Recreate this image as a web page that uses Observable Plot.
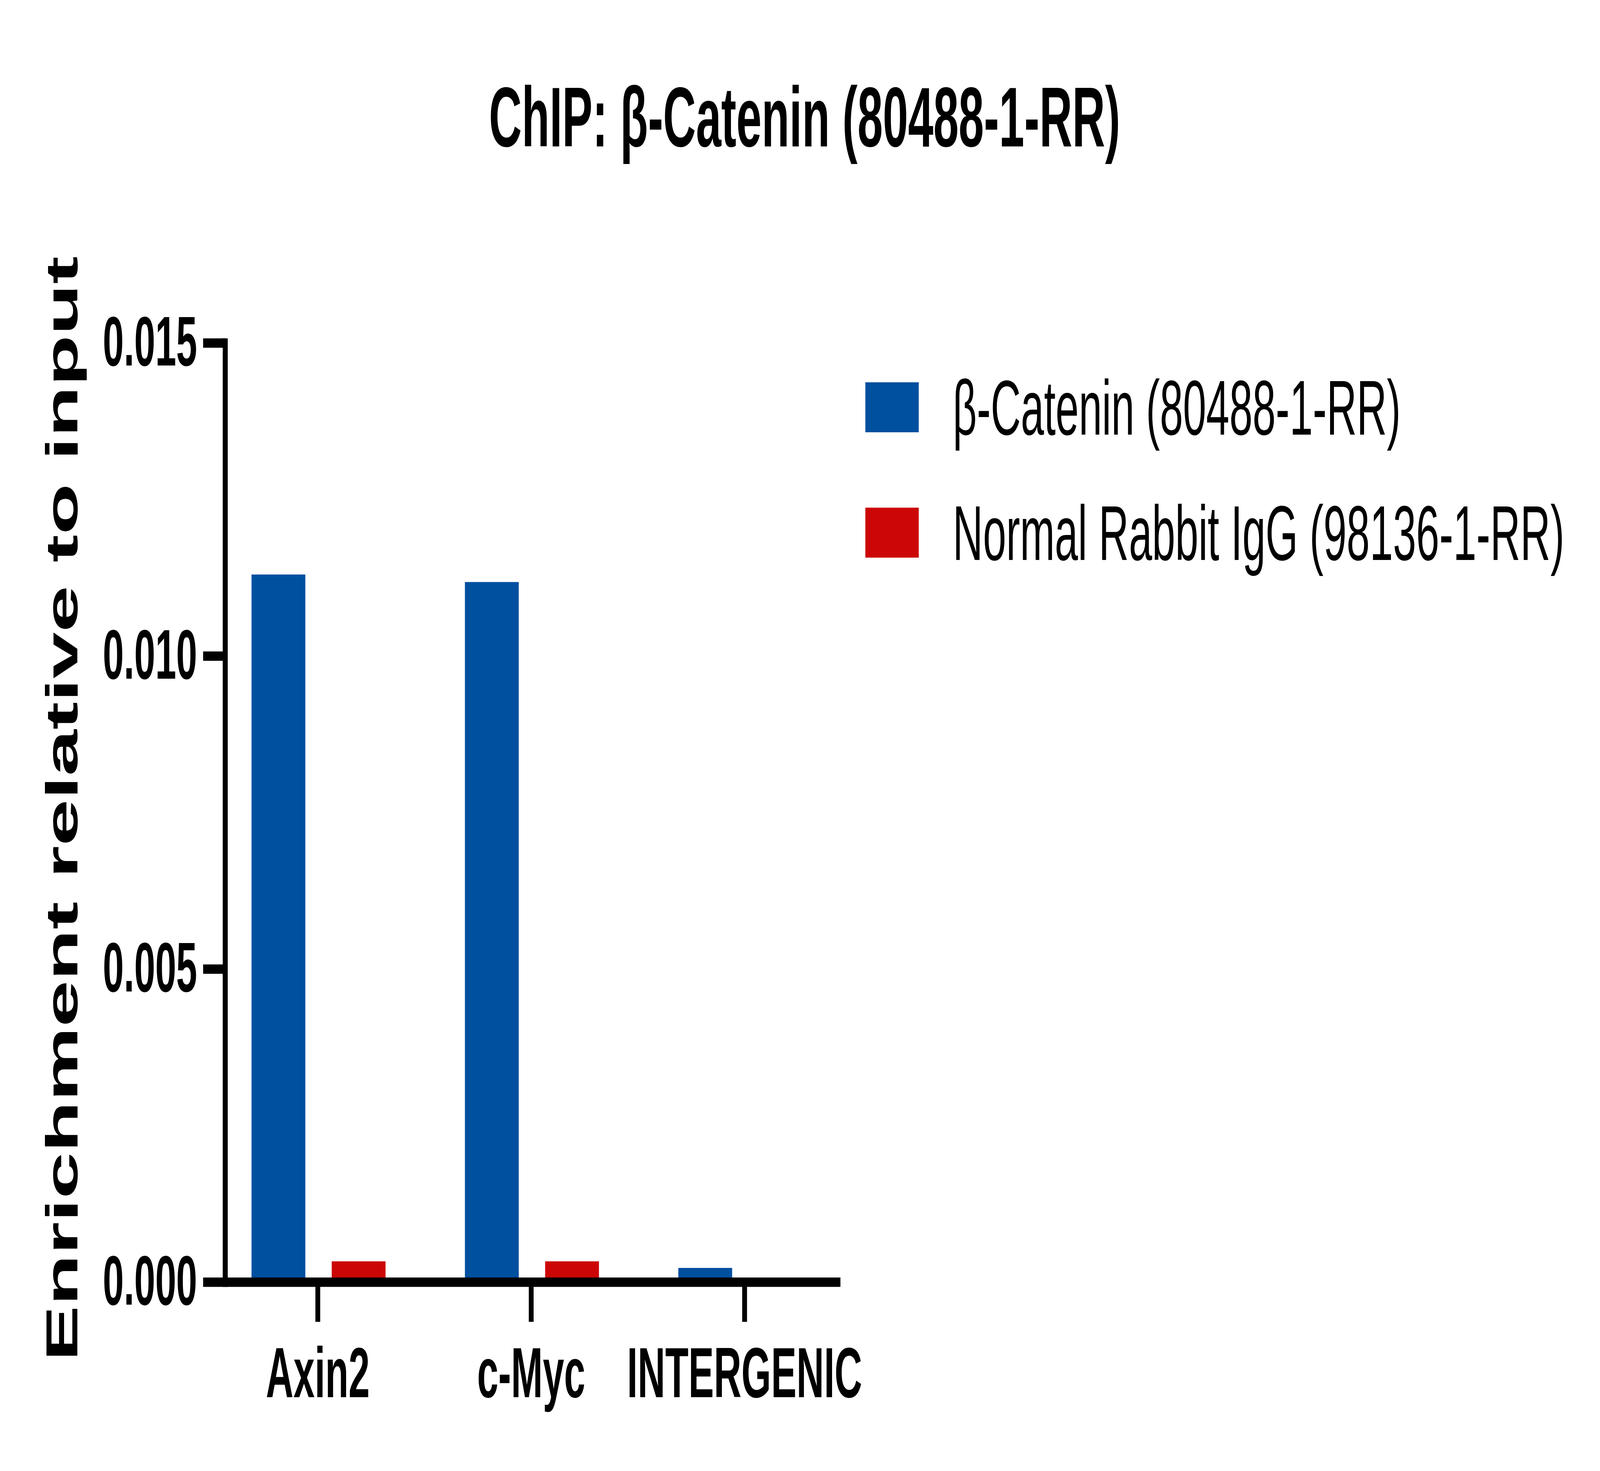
<!DOCTYPE html>
<html>
<head>
<meta charset="utf-8">
<script src="https://cdn.jsdelivr.net/npm/d3@7"></script>
<script src="https://cdn.jsdelivr.net/npm/@observablehq/plot@0.6"></script>
<style>
  html, body { margin: 0; padding: 0; background: #fff; overflow: hidden; }
  #outer { position: relative; overflow: hidden; }
  #wrap { position: absolute; left: 0; top: 0; width: 7640px; height: 3767px; transform-origin: 0 0; font-family: "Liberation Sans", Arial, sans-serif; background: #fff; }
  #title { position: absolute; left: 22px; top: 192px; width: 7640px; text-align: center; font-size: 217px; line-height: 217px; font-weight: bold; color: #000; white-space: nowrap; }
  .lg-swatch { position: absolute; left: 4132px; width: 255px; height: 128px; }
  .lg-text { position: absolute; left: 4550px; font-size: 199px; line-height: 199px; color: #000; white-space: nowrap; }
  #chart { position: absolute; left: 0; top: 0; }
</style>
</head>
<body>
<div id="outer">
<div id="wrap">
  <div id="chart"></div>
  <div id="title"></div>
  <div id="legend"></div>
</div>
</div>
<script>
// ---- data ----
const categories = ["Axin2", "c-Myc", "INTERGENIC"];
const seriesNames = ["β-Catenin (80488-1-RR)", "Normal Rabbit IgG (98136-1-RR)"];
const seriesColors = ["#0050a0", "#cc0606"];
const betaCatenin = [0.01130, 0.01118, 0.000225];
const normalIgG = [0.00033, 0.00033, 0.0];
const yTicks = [0, 0.005, 0.010, 0.015];
const titleText = "ChIP: β-Catenin (80488-1-RR)";
const yLabel = "Enrichment relative to input";

const W = 7640, H = 3767;

const rows = [];
categories.forEach((c, i) => {
  rows.push({category: c, series: seriesNames[0], value: betaCatenin[i]});
  rows.push({category: c, series: seriesNames[1], value: normalIgG[i]});
});

document.getElementById("title").textContent = titleText;

const legend = document.getElementById("legend");
const rowTops = [979, 1300];
seriesNames.forEach((s, i) => {
  const sw = document.createElement("div");
  sw.className = "lg-swatch";
  sw.style.top = rowTops[i] + "px";
  sw.style.background = seriesColors[i];
  legend.appendChild(sw);
  const t = document.createElement("div");
  t.className = "lg-text";
  t.style.top = (rowTops[i] - 34) + "px";
  t.textContent = s;
  legend.appendChild(t);
});

const plot = Plot.plot({
  width: W,
  height: H,
  marginLeft: 1075,
  marginRight: 3627,
  marginTop: 878,
  marginBottom: 484,
  style: {fontFamily: "'Liberation Sans', Arial, sans-serif", fontWeight: "bold", color: "#000", background: "#fff"},
  x: {type: "band", domain: categories, paddingInner: 0.25, paddingOuter: 0.0665, align: 0.443},
  y: {domain: [0, 0.015]},
  color: {domain: seriesNames, range: seriesColors},
  marks: [
    Plot.barY(rows.filter(d => d.series === seriesNames[0]), {x: "category", y: "value", fill: seriesColors[0], insetLeft: 66, insetRight: 441}),
    Plot.barY(rows.filter(d => d.series === seriesNames[1]), {x: "category", y: "value", fill: seriesColors[1], insetLeft: 449, insetRight: 58}),
    Plot.ruleY([0], {stroke: "#000", strokeWidth: 24}),
    Plot.frame({anchor: "left", stroke: "#000", strokeWidth: 24, strokeLinecap: "square"}),
    Plot.axisY({ticks: yTicks, tickFormat: d3.format(".3f"), tickSize: 105, tickPadding: 29, fontSize: 180, fontWeight: "bold", strokeWidth: 24, label: null}),
    Plot.axisX({tickSize: 102, tickPadding: 63, fontSize: 182, fontWeight: "bold", strokeWidth: 23, label: null}),
    Plot.text([yLabel], {text: d => d, frameAnchor: "left", textAnchor: "middle", rotate: -90, dx: -706, dy: -10, lineAnchor: "bottom", fontSize: 214, fontWeight: "bold", fill: "#000"})
  ]
});
document.getElementById("chart").appendChild(plot);

// The window may be narrower than the 7640x3767 design; fit the whole figure to it.
function fit() {
  const vw = window.innerWidth || W, vh = window.innerHeight || H;
  const sx = Math.min(1, vw / W), sy = Math.min(1, vh / H);
  const outer = document.getElementById("outer");
  outer.style.width = (W * sx) + "px";
  outer.style.height = (H * sy) + "px";
  document.getElementById("wrap").style.transform = `scale(${sx}, ${sy})`;
}
fit();
window.addEventListener("resize", fit);
</script>
</body>
</html>
